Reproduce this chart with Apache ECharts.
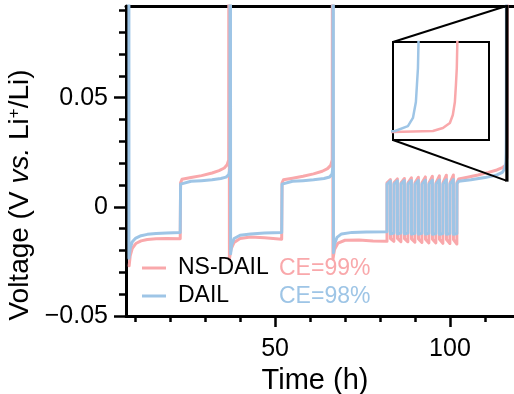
<!DOCTYPE html>
<html>
<head>
<meta charset="utf-8">
<script src="https://cdn.jsdelivr.net/npm/echarts@6/dist/echarts.min.js"></script>
<style>
  html, body { margin: 0; padding: 0; background: #fff; }
  #chart { width: 514px; height: 394px; }
</style>
</head>
<body>
<div id="chart"></div>
<script>
// Voltage profiles of Li symmetric cells, [time (h), voltage (V)]
const nsDailLong = [
  [8.3, -0.027], [8.6, -0.0225], [9.2, -0.019], [10.2, -0.0168], [11.7, -0.0156], [13.5, -0.015], [16, -0.0146], [19, -0.0145], [22.9, -0.0146],
  [23.0, 0.0110], [23.4, 0.0126], [26, 0.0134], [29, 0.0143], [32, 0.0155], [34, 0.0166], [35.5, 0.0178], [36.3, 0.0193], [36.75, 0.0215], [36.85, 0.3],
  [36.95, -0.024], [37.4, -0.0195], [38.3, -0.0163], [40, -0.0145], [43, -0.0138], [47, -0.0142], [51.9, -0.0148],
  [52.0, 0.0110], [52.4, 0.0124], [55, 0.0131], [58, 0.014], [61, 0.0151], [63.5, 0.0163], [65, 0.0175], [65.9, 0.019], [66.35, 0.0215], [66.45, 0.3],
  [66.55, -0.024], [67, -0.0195], [68, -0.0166], [70, -0.0153], [74, -0.0152], [78, -0.0156], [82.0, -0.0158]
];
const nsDailCycles = [
  [82.0, 0.011], [82.97, 0.0125], [83.0, -0.0145], [83.97, -0.0158],
  [84.0, 0.011], [84.97, 0.0128], [85.0, -0.0145], [85.97, -0.016],
  [86.0, 0.011], [86.97, 0.013], [87.0, -0.0146], [87.97, -0.016],
  [88.0, 0.011], [88.97, 0.0133], [89.0, -0.0147], [89.97, -0.0162],
  [90.0, 0.011], [90.97, 0.0135], [91.0, -0.0147], [91.97, -0.0163],
  [92.0, 0.011], [92.97, 0.0137], [93.0, -0.0148], [93.97, -0.0165],
  [94.0, 0.011], [94.97, 0.014], [95.0, -0.0148], [95.97, -0.0165],
  [96.0, 0.011], [96.97, 0.0142], [97.0, -0.0149], [97.97, -0.0167],
  [98.0, 0.011], [98.97, 0.0145], [99.0, -0.015], [99.97, -0.0168],
  [100.0, 0.011], [100.97, 0.0146], [101.0, -0.015], [101.97, -0.017]
];
const nsDailTail = [
  [102.0, 0.0112], [102.5, 0.0128], [105, 0.0136], [108, 0.0146], [111, 0.0158], [113.4, 0.0169], [115, 0.018], [115.5, 0.0187],
  [115.95, 0.0191], [116.22, 0.020], [116.288, 0.0227], [116.335, 0.0271], [116.355, 0.0342], [116.369, 0.0458], [116.376, 0.0609], [116.382, 0.076], [116.389, 0.12]
];

const dailLong = [
  [8.2, 0.3], [8.25, -0.0235], [8.6, -0.019], [9.2, -0.016], [10.2, -0.0143], [11.7, -0.0132], [13.5, -0.0126], [16, -0.0122], [19, -0.012], [22.9, -0.0118],
  [23.0, 0.0104], [23.4, 0.0113], [26, 0.0117], [29, 0.012], [32, 0.0124], [34.5, 0.013], [36, 0.0136], [36.8, 0.0148], [37.1, 0.0175], [37.2, 0.3],
  [37.3, -0.0215], [37.6, -0.0175], [38.3, -0.0145], [40, -0.013], [43, -0.0124], [47, -0.012], [51.9, -0.0118],
  [52.0, 0.0104], [52.4, 0.0113], [55, 0.0117], [58, 0.012], [61, 0.0124], [64, 0.013], [65.6, 0.0137], [66.3, 0.015], [66.55, 0.0185], [66.6, 0.3],
  [66.7, -0.021], [67, -0.017], [67.7, -0.014], [69, -0.0124], [72, -0.0117], [76, -0.0115], [82.0, -0.0114]
];
const dailCycles = [
  [82.0, 0.0104], [82.97, 0.0118], [83.0, -0.0124], [83.97, -0.012],
  [84.0, 0.0104], [84.97, 0.0119], [85.0, -0.0124], [85.97, -0.012],
  [86.0, 0.0104], [86.97, 0.012], [87.0, -0.0124], [87.97, -0.012],
  [88.0, 0.0104], [88.97, 0.012], [89.0, -0.0125], [89.97, -0.0121],
  [90.0, 0.0104], [90.97, 0.0121], [91.0, -0.0125], [91.97, -0.0121],
  [92.0, 0.0104], [92.97, 0.0122], [93.0, -0.0125], [93.97, -0.0121],
  [94.0, 0.0104], [94.97, 0.0122], [95.0, -0.0126], [95.97, -0.0122],
  [96.0, 0.0104], [96.97, 0.0123], [97.0, -0.0126], [97.97, -0.0122],
  [98.0, 0.0104], [98.97, 0.0124], [99.0, -0.0126], [99.97, -0.0122],
  [100.0, 0.0104], [100.97, 0.0125], [101.0, -0.0126], [101.97, -0.0122]
];
const dailTail = [
  [102.0, 0.0106], [102.5, 0.0117], [106, 0.0124], [110, 0.0134], [113.4, 0.0146], [115, 0.0158], [115.5, 0.0172],
  [115.964, 0.020], [116.051, 0.0244], [116.085, 0.0316], [116.105, 0.0458], [116.112, 0.0609], [116.119, 0.076], [116.126, 0.12]
];

const seriesNames = ['NS-DAIL', 'DAIL'];
const ceLabels = ['CE=99%', 'CE=98%'];
const xMajorTicks = [50, 100];
const xMinorTicks = [10, 20, 30, 40, 60, 70, 80, 90, 110];
const yMajorTicks = [-0.05, 0, 0.05];
const yMinorTicks = [-0.04, -0.03, -0.02, -0.01, 0.01, 0.02, 0.03, 0.04, 0.06, 0.07, 0.08, 0.09];

const xRange = [7.4, 118.3];
const yRange = [-0.05, 0.092];
const zoomX = [116.1, 116.45];
const zoomY = [0.012, 0.092];
const insetX = [115.95, 116.6];
const insetY = [0.012, 0.0991];

const PINK = '#F9A8AB';
const BLUE = '#9EC5E6';
const FONT = 'Liberation Sans, Arial, Helvetica, sans-serif';

const nsData = nsDailLong.concat(nsDailCycles, nsDailTail);
const dailData = dailLong.concat(dailCycles, dailTail);

const mainRect = { left: 126, top: 6, right: 0, bottom: 78 };
const insetRect = { left: 393, top: 42, width: 96, height: 98 };

const chart = echarts.init(document.getElementById('chart'), null, { renderer: 'canvas' });

const lineSeries = (name, data, color, xi, yi, width) => ({
  name: name, type: 'line', data: data, xAxisIndex: xi, yAxisIndex: yi,
  showSymbol: false, symbol: 'none', clip: true, animation: false,
  lineStyle: { color: color, width: width, join: 'round', cap: 'round' },
  itemStyle: { color: color }
});

const yFmt = v => v === 0 ? '0' : (v < 0 ? '\u22120' : '0') + '.' + Math.abs(v).toFixed(2).split('.')[1];

const fixedGrid = rect => Object.assign({ containLabel: false, outerBoundsMode: 'none' }, rect);

chart.setOption({
  animation: false,
  backgroundColor: '#fff',
  textStyle: { fontFamily: FONT },
  grid: [
    fixedGrid(mainRect),
    fixedGrid(mainRect),
    Object.assign(fixedGrid(insetRect), { show: true, borderColor: '#000', borderWidth: 2, backgroundColor: '#fff', z: 5 })
  ],
  xAxis: [
    { type: 'value', gridIndex: 0, min: xRange[0], max: xRange[1], position: 'bottom',
      name: 'Time (h)', nameLocation: 'middle', nameGap: 49,
      nameTextStyle: { fontSize: 29, color: '#000', fontFamily: FONT, padding: [0, 10, 0, 0] },
      axisLine: { onZero: false, lineStyle: { color: '#000', width: 3 } },
      axisTick: { show: true, inside: false, customValues: xMajorTicks, length: 11, lineStyle: { color: '#000', width: 2.5 } },
      axisLabel: { customValues: xMajorTicks, margin: 21, fontSize: 25, color: '#000', fontFamily: FONT },
      splitLine: { show: false } },
    { type: 'value', gridIndex: 0, min: xRange[0], max: xRange[1], position: 'top',
      axisLine: { onZero: false, lineStyle: { color: '#000', width: 3 } },
      axisTick: { show: false }, axisLabel: { show: false }, splitLine: { show: false } },
    { type: 'value', gridIndex: 1, min: xRange[0], max: xRange[1], position: 'bottom',
      axisLine: { show: false, onZero: false },
      axisTick: { show: true, inside: false, customValues: xMinorTicks, length: 6, lineStyle: { color: '#000', width: 2.5 } },
      axisLabel: { show: false }, splitLine: { show: false } },
    { type: 'value', gridIndex: 2, min: insetX[0], max: insetX[1], show: false }
  ],
  yAxis: [
    { type: 'value', gridIndex: 0, min: yRange[0], max: yRange[1], position: 'left',
      name: 'Voltage (V {i|vs.} Li{s|+}/Li)', nameLocation: 'middle', nameRotate: 90, nameGap: 65,
      nameTextStyle: { fontSize: 28, color: '#000', fontFamily: FONT, padding: [0, 68, 0, 0],
        rich: { i: { fontSize: 28, fontStyle: 'italic', color: '#000', fontFamily: FONT },
                s: { fontSize: 17, color: '#000', fontFamily: FONT, padding: [0, 0, 12, 0] } } },
      axisLine: { onZero: false, lineStyle: { color: '#000', width: 3 } },
      axisTick: { show: true, inside: false, customValues: yMajorTicks, length: 12, lineStyle: { color: '#000', width: 2.5 } },
      axisLabel: { customValues: yMajorTicks, margin: 18, fontSize: 25, color: '#000', fontFamily: FONT, formatter: yFmt },
      splitLine: { show: false } },
    { type: 'value', gridIndex: 1, min: yRange[0], max: yRange[1], position: 'left',
      axisLine: { show: false, onZero: false },
      axisTick: { show: true, inside: false, customValues: yMinorTicks, length: 7, lineStyle: { color: '#000', width: 2.5 } },
      axisLabel: { show: false }, splitLine: { show: false } },
    { type: 'value', gridIndex: 2, min: insetY[0], max: insetY[1], show: false }
  ],
  legend: {
    data: seriesNames, orient: 'vertical', left: 142, top: 254, padding: 0,
    icon: 'rect', itemWidth: 24, itemHeight: 3, itemGap: 0,
    textStyle: { fontSize: 23, color: '#000', fontFamily: FONT, lineHeight: 28, padding: [0, 0, 0, 7] },
    selectedMode: false
  },
  series: [
    lineSeries(seriesNames[0], nsData, PINK, 0, 0, 3),
    lineSeries(seriesNames[1], dailData, BLUE, 0, 0, 3),
    Object.assign(lineSeries(seriesNames[0], nsData, PINK, 3, 2, 2.5), { z: 6 }),
    Object.assign(lineSeries(seriesNames[1], dailData, BLUE, 3, 2, 2.5), { z: 6 })
  ]
});

// Zoom window on the main plot and its connectors to the inset
const pTop = chart.convertToPixel({ gridIndex: 0 }, [zoomX[0], zoomY[1]]);
const pBot = chart.convertToPixel({ gridIndex: 0 }, [zoomX[0], zoomY[0]]);
const pRight = chart.convertToPixel({ gridIndex: 0 }, [zoomX[1], zoomY[0]]);
const insL = insetRect.left, insT = insetRect.top, insB = insetRect.top + insetRect.height;

chart.setOption({
  graphic: [
    { type: 'rect', z: 10, shape: { x: pTop[0], y: pTop[1], width: pRight[0] - pTop[0], height: pBot[1] - pTop[1] },
      style: { fill: 'none', stroke: '#000', lineWidth: 2 } },
    { type: 'line', z: 10, shape: { x1: insL, y1: insT, x2: pTop[0], y2: pTop[1] }, style: { stroke: '#000', lineWidth: 2 } },
    { type: 'line', z: 10, shape: { x1: insL, y1: insB, x2: pBot[0], y2: pBot[1] }, style: { stroke: '#000', lineWidth: 2 } },
    { type: 'text', z: 10, left: 279, top: 257, style: { text: ceLabels[0], fill: PINK, font: '23px ' + FONT } },
    { type: 'text', z: 10, left: 279, top: 285, style: { text: ceLabels[1], fill: BLUE, font: '23px ' + FONT } }
  ]
});
</script>
</body>
</html>
